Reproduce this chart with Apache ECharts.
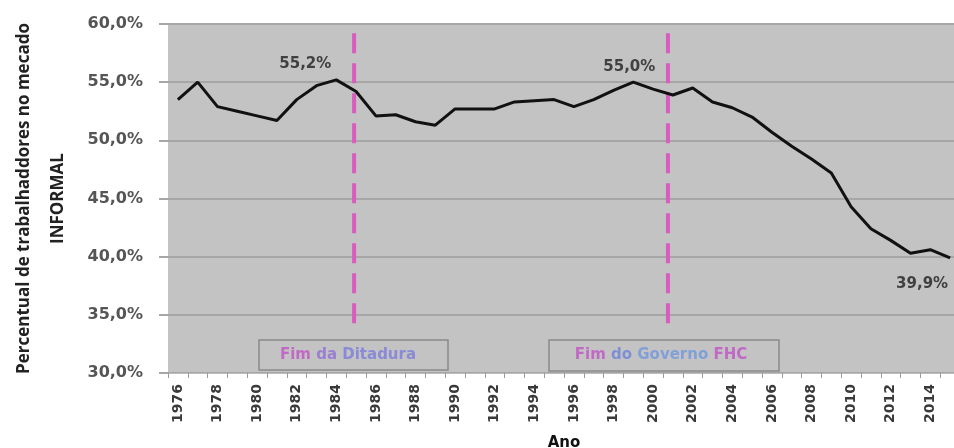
<!DOCTYPE html>
<html>
<head>
<meta charset="utf-8">
<script src="https://cdn.jsdelivr.net/npm/echarts@6/dist/echarts.min.js"></script>
<style>
  html, body { margin: 0; padding: 0; background: #fff; }
  #chart { width: 954px; height: 448px; }
</style>
</head>
<body>
<div id="chart"></div>
<script>
  // anos (eixo x)
  var anos = ['1976', '1977', '1978', '1979', '1980', '1981', '1982', '1983', '1984', '1985',
    '1986', '1987', '1988', '1989', '1990', '1991', '1992', '1993', '1994', '1995',
    '1996', '1997', '1998', '1999', '2000', '2001', '2002', '2003', '2004', '2005',
    '2006', '2007', '2008', '2009', '2010', '2011', '2012', '2013', '2014', '2015'];

  // percentual de trabalhadores no mercado informal
  var informal = [53.5, 55.0, 52.9, 52.5, 52.1, 51.7, 53.5, 54.7, 55.2, 54.2,
    52.1, 52.2, 51.6, 51.3, 52.7, 52.7, 52.7, 53.3, 53.4, 53.5,
    52.9, 53.5, 54.3, 55.0, 54.4, 53.9, 54.5, 53.3, 52.8, 52.0,
    50.7, 49.5, 48.4, 47.2, 44.3, 42.4, 41.4, 40.3, 40.6, 39.9];

  // rótulos destacados (índice do ano)
  var destaques = [8, 23, 39];

  // marcos históricos: ano (posição) e extensão vertical da linha tracejada
  var marcosAno = [1984.9, 2000.75];
  var marcosFaixa = [59.2, 33.6];

  function pct(v) {
    return v.toFixed(1).replace('.', ',') + '%';
  }

  var labelOffsets = {
    8: { position: 'top', offset: [-31, -3] },
    23: { position: 'top', offset: [-4, -3] },
    39: { position: 'bottom', offset: [-28, 14] }
  };

  var serieDados = informal.map(function(v, i) {
    if (destaques.indexOf(i) < 0) return v;
    return {
      value: v,
      label: {
        show: true,
        position: labelOffsets[i].position,
        offset: labelOffsets[i].offset,
        formatter: function(p) { return pct(p.value); },
        color: '#404040',
        fontSize: 15,
        fontWeight: 'bold',
        fontFamily: 'DejaVu Sans'
      }
    };
  });

  var marcoSeries = marcosAno.map(function(a) {
    return {
      type: 'line',
      xAxisIndex: 1,
      yAxisIndex: 0,
      data: [[a, marcosFaixa[0]], [a, marcosFaixa[1]]],
      symbol: 'none',
      silent: true,
      z: 3,
      lineStyle: { color: '#d95cc0', width: 4, type: [20, 10] }
    };
  });

  var myChart = echarts.init(document.getElementById('chart'), null, { renderer: 'canvas' });

  var richBox = function(c) {
    return { fill: c, fontSize: 15, fontWeight: 'bold', fontFamily: 'DejaVu Sans' };
  };

  var option = {
    backgroundColor: '#ffffff',
    animation: false,
    textStyle: { fontFamily: 'DejaVu Sans' },
    grid: {
      left: 168,
      right: -6,
      top: 24,
      bottom: 75,
      show: true,
      backgroundColor: '#c3c3c3',
      borderWidth: 0,
      outerBoundsMode: 'none'
    },
    xAxis: [{
      type: 'category',
      data: anos,
      boundaryGap: true,
      name: 'Ano',
      nameLocation: 'middle',
      nameGap: 63,
      nameTextStyle: { color: '#111', fontSize: 15, fontWeight: 'bold', fontFamily: 'DejaVu Sans' },
      axisLine: { show: true, lineStyle: { color: '#bdbdbd', width: 1 } },
      axisTick: { show: true, interval: 0, length: 5, lineStyle: { color: '#9a9a9a' } },
      axisLabel: {
        interval: 1,
        rotate: 90,
        margin: 11,
        color: '#3a3a3a',
        fontSize: 14,
        fontWeight: 'bold',
        fontFamily: 'DejaVu Sans'
      },
      splitLine: { show: false }
    }, {
      type: 'value',
      min: 1975.5,
      max: 2015.5,
      show: false
    }],
    yAxis: {
      type: 'value',
      min: 30,
      max: 60,
      interval: 5,
      name: 'Percentual de trabalhaddores no mecado\nINFORMAL',
      nameLocation: 'middle',
      nameRotate: 90,
      nameGap: 93,
      nameTextStyle: {
        color: '#222',
        fontSize: 17,
        fontWeight: 'bold',
        fontFamily: 'Open Sans',
        lineHeight: 34,
        align: 'center'
      },
      axisLine: { show: false },
      axisTick: { show: true, length: 9, lineStyle: { color: '#a6a6a6', width: 2 } },
      axisLabel: {
        margin: 25,
        color: '#555',
        fontSize: 16,
        fontWeight: 'bold',
        fontFamily: 'DejaVu Sans',
        formatter: function(v) { return pct(v); }
      },
      splitLine: { show: true, lineStyle: { color: '#a6a6a6', width: 2 } }
    },
    graphic: [{
      type: 'rect',
      shape: { x: 259, y: 340, width: 189, height: 30 },
      style: { fill: '#c3c3c3', stroke: '#8a8a8a', lineWidth: 1.5 },
      z: 10
    }, {
      type: 'text',
      x: 348,
      y: 355,
      z: 11,
      style: {
        text: '{a|Fim} {b|da} {c|Ditadura}',
        align: 'center',
        verticalAlign: 'middle',
        font: 'bold 15px "DejaVu Sans"',
        rich: { a: richBox('#c06ac6'), b: richBox('#9a7fd2'), c: richBox('#8a8ad6') }
      }
    }, {
      type: 'rect',
      shape: { x: 549, y: 340, width: 230, height: 31 },
      style: { fill: '#c3c3c3', stroke: '#8a8a8a', lineWidth: 1.5 },
      z: 10
    }, {
      type: 'text',
      x: 661,
      y: 355,
      z: 11,
      style: {
        text: '{a|Fim} {b|do} {c|Governo} {a|FHC}',
        align: 'center',
        verticalAlign: 'middle',
        font: 'bold 15px "DejaVu Sans"',
        rich: { a: richBox('#c06ac6'), b: richBox('#7f8fd6'), c: richBox('#82a0d8') }
      }
    }],
    series: [{
      type: 'line',
      data: serieDados,
      symbol: 'circle',
      symbolSize: 0.1,
      showAllSymbol: true,
      itemStyle: { color: '#111' },
      z: 5,
      lineStyle: { color: '#111', width: 3 }
    }].concat(marcoSeries)
  };

  myChart.setOption(option);
</script>
</body>
</html>
